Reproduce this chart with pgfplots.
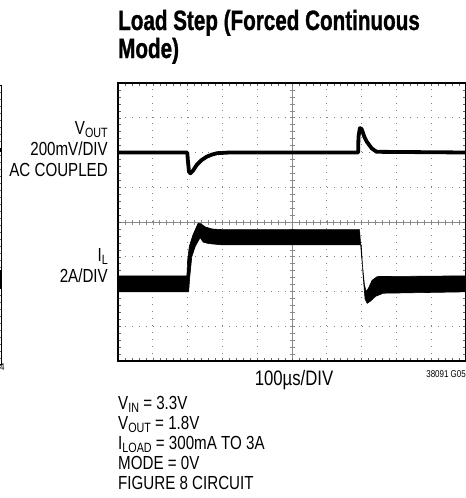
\documentclass[border=0pt]{standalone}
\usepackage{pgfplots}
\pgfplotsset{compat=1.18}
\usepackage{fontspec}
\setmainfont{Liberation Sans}[FakeStretch=0.80]
\newfontfamily\titlefont{Liberation Sans Bold}[FakeStretch=0.74, FakeBold=1]
\newcommand\sub[1]{\raisebox{-3bp}{\fontsize{13.5}{13.5}\selectfont #1}}
\newcommand\txt{\fontsize{19}{20}\selectfont}
\begin{document}
\begin{tikzpicture}
\path[use as bounding box] (0,0) rectangle (466bp,-498bp);
% crosshair (center lines with ticks)
\begin{scope}[x=1bp,y=1bp,black!45,line width=0.6bp]
\draw (118,-222) -- (466,-222);
\draw (292,-83) -- (292,-361);
\foreach \i in {1,...,49} \draw (118+\i*6.96,-219.5) -- ++(0,-5);
\foreach \i in {1,...,39} \draw (289.5,-83-\i*6.95) -- ++(5,0);
\end{scope}
% fragment of the previous figure at the left edge
\begin{axis}[at={(1.5bp,-85bp)}, anchor=north east, scale only axis,
  width=348bp, height=280bp, xmin=0, xmax=10, ymin=0, ymax=8,
  xtick={0,...,10}, ytick={0,...,8}, xticklabels={}, yticklabels={},
  minor x tick num=4, minor y tick num=4, tick align=inside,
  major tick length=3bp, minor tick length=3bp,
  tick style={black!60, line width=0.5bp},
  axis line style={black, line width=1bp}]
\addplot[black, line width=3.5bp] coordinates {(9.8,6.14) (10,6.14)};
\addplot[black, fill=black] coordinates {(9.8,2.2) (10,2.2) (10,2.7) (9.8,2.7)} -- cycle;
\end{axis}
% main scope screen
\begin{axis}[at={(118bp,-83bp)}, anchor=north west, scale only axis,
  width=348bp, height=278bp, xmin=0, xmax=10, ymin=0, ymax=8,
  xtick={0,...,10}, ytick={0,...,8}, xticklabels={}, yticklabels={},
  minor x tick num=4, minor y tick num=4, tick align=inside,
  major tick length=3bp, minor tick length=3bp,
  tick style={black!60, line width=0.5bp},
  grid=major, major grid style={black!50, line width=0.9bp, dash pattern=on 0.9bp off 6.06bp},
  axis line style={black, line width=1.2bp}]
% V_OUT trace
\addplot[black, line width=3.8bp, line join=round] coordinates {
(0,6.0) (1.99,6.0) (2.01,5.75) (2.04,5.45) (2.08,5.40) (2.15,5.47) (2.26,5.64)
(2.40,5.78) (2.55,5.88) (2.70,5.94) (2.85,5.98) (3.2,6.0) (6.90,6.0)
(6.91,6.45) (6.95,6.70) (7.00,6.68) (7.08,6.45) (7.15,6.31) (7.29,6.12)
(7.43,6.02) (10,6.0)};
% I_L trace (noisy band)
\addplot[black, fill=black, line width=0.6bp] coordinates {
(0,2.45) (1.98,2.45) (2.00,2.90) (2.05,3.30) (2.15,3.62) (2.30,3.96) (2.38,3.95)
(2.50,3.86) (2.70,3.80) (3.0,3.78) (6.94,3.78) (7.00,3.00) (7.08,2.20)
(7.13,2.00) (7.20,2.10) (7.30,2.32) (7.45,2.43) (10,2.45)
(10,1.99) (7.62,1.95) (7.40,1.86) (7.25,1.72) (7.16,1.66) (7.10,1.78)
(7.04,2.50) (6.99,3.34) (3.0,3.34) (2.60,3.38) (2.45,3.42) (2.36,3.55)
(2.22,3.30) (2.12,3.00) (2.06,2.40) (2.03,1.99) (0,1.99)} -- cycle;
\end{axis}
% title
\node[anchor=base west, inner sep=0] at (118bp,-30bp) {\titlefont\fontsize{28}{28}\selectfont Load Step (Forced Continuous};
\node[anchor=base west, inner sep=0] at (118bp,-58bp) {\titlefont\fontsize{28}{28}\selectfont Mode)};
% channel labels
\node[anchor=base east, inner sep=0] at (108bp,-134bp) {\txt V\sub{OUT}};
\node[anchor=base east, inner sep=0] at (108bp,-155bp) {\txt 200mV/DIV};
\node[anchor=base east, inner sep=0] at (108bp,-176bp) {\txt AC COUPLED};
\node[anchor=base east, inner sep=0] at (108bp,-261bp) {\txt I\sub{L}};
\node[anchor=base east, inner sep=0] at (108bp,-282bp) {\txt 2A/DIV};
% time base and figure ids
\node[anchor=base, inner sep=0] at (294bp,-385bp) {\fontsize{21}{21}\selectfont 100µs/DIV};
\node[anchor=base east, inner sep=0] at (466bp,-377bp) {\fontsize{10}{10}\selectfont 38091 G05};
\node[anchor=base west, inner sep=0] at (0bp,-370bp) {\fontsize{10}{10}\selectfont 4};
% conditions
\node[anchor=base west, inner sep=0] at (118bp,-409bp) {\txt V\sub{IN} = 3.3V};
\node[anchor=base west, inner sep=0] at (118bp,-429bp) {\txt V\sub{OUT} = 1.8V};
\node[anchor=base west, inner sep=0] at (118bp,-449bp) {\txt I\sub{LOAD} = 300mA TO 3A};
\node[anchor=base west, inner sep=0] at (118bp,-469bp) {\txt MODE = 0V};
\node[anchor=base west, inner sep=0] at (118bp,-489bp) {\txt FIGURE 8 CIRCUIT};
\end{tikzpicture}
\end{document}
